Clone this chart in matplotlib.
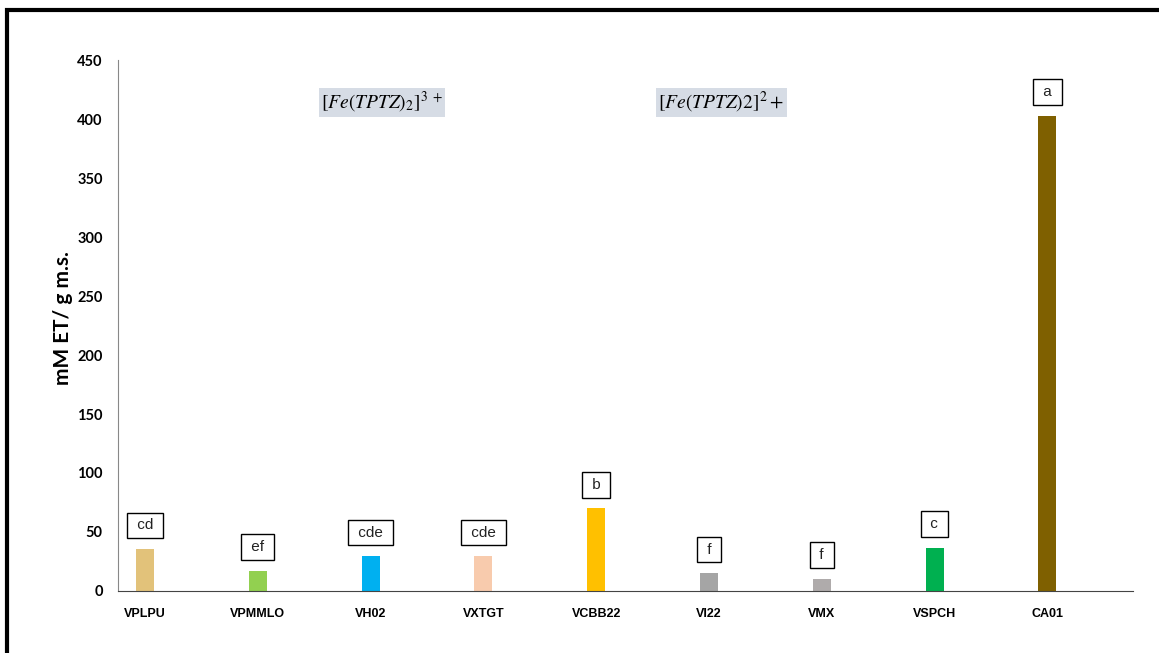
import matplotlib.pyplot as plt
from matplotlib.patches import Rectangle

plt.rcParams['mathtext.fontset'] = 'stix'

muestras = ['VPLPU', 'VPMMLO', 'VH02', 'VXTGT', 'VCBB22', 'VI22', 'VMX', 'VSPCH', 'CA01']
valores = [35.5, 17, 29.5, 29.5, 70, 15, 10.5, 36.5, 403]
letras = ['cd', 'ef', 'cde', 'cde', 'b', 'f', 'f', 'c', 'a']
colores = ['#E2C27A', '#92D050', '#00B0F0', '#F8CBAD', '#FFC000',
           '#A5A5A5', '#AFABAB', '#00B050', '#7F6000']

fig = plt.figure(figsize=(11.59, 6.53), dpi=100)
ax = fig.add_axes([0.1018, 0.095, 0.8758, 0.813])

x = range(len(muestras))
ax.bar(x, valores, width=0.16, color=colores, zorder=2)

# letras de significancia sobre cada barra
for i, (v, l) in enumerate(zip(valores, letras)):
    ax.annotate(' ' + l + ' ', (i, v), xytext=(0, 17), textcoords='offset points',
                ha='center', va='center', fontsize=11, family='Liberation Sans',
                color='#222222',
                bbox=dict(boxstyle='square,pad=0.38', fc='white', ec='black', lw=1))

ax.text(1.56, 414, r'$[Fe(TPTZ)_2]^{3\ +}$', fontsize=14, ha='left', va='center',
        bbox=dict(boxstyle='square,pad=0.12', fc='#D6DCE5', ec='none'))
ax.text(4.55, 414, r'$[Fe(TPTZ)2]^{2}+$', fontsize=14, ha='left', va='center',
        bbox=dict(boxstyle='square,pad=0.12', fc='#D6DCE5', ec='none'))

ax.set_xlim(-0.24, 8.76)
ax.set_ylim(0, 450)
ax.set_yticks(range(0, 451, 50))
ax.set_xticks(list(x))
ax.set_xticklabels(muestras, fontsize=9, fontweight='bold', family='Liberation Sans')
for t in ax.get_yticklabels():
    t.set_fontweight('bold')
    t.set_fontsize(10.5)
    t.set_family('Lato')
ax.tick_params(axis='both', length=0)
ax.tick_params(axis='x', pad=12)
ax.tick_params(axis='y', pad=11)
ax.set_ylabel('mM ET/ g m.s.', fontsize=15, fontweight='bold', family='Lato')
ax.yaxis.set_label_coords(-0.044, 0.514)

ax.spines['top'].set_visible(False)
ax.spines['right'].set_visible(False)
ax.spines['left'].set_color('#888888')
ax.spines['bottom'].set_color('#444444')

# marco negro alrededor de la figura
fig.add_artist(Rectangle((7 / 1159, -0.1), 1.2, 1 - 10 / 653 + 0.1,
                         transform=fig.transFigure, fill=False, lw=3, ec='black'))

fig.savefig('out.png', dpi=100)
